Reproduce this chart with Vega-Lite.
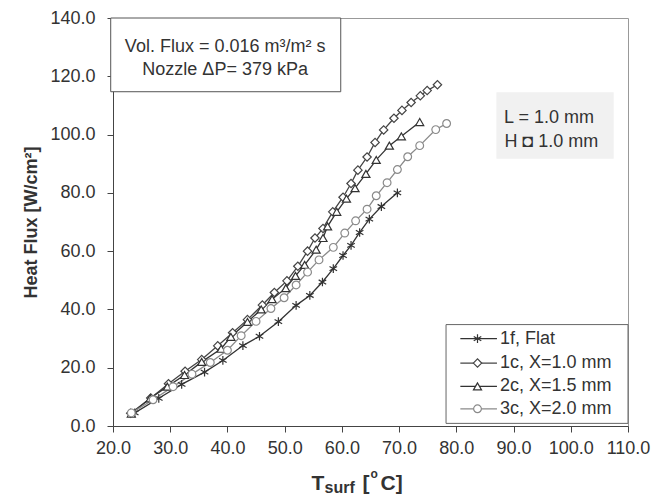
{
  "$schema": "https://vega.github.io/schema/vega-lite/v6.json",
  "autosize": "none",
  "width": 515,
  "height": 408,
  "padding": {"left": 113, "top": 18, "right": 27, "bottom": 78},
  "background": "white",
  "config": {
    "font": "Liberation Sans",
    "view": {"stroke": "#999", "strokeWidth": 1},
    "axis": {
      "grid": false,
      "domainColor": "#444",
      "tickColor": "#444",
      "tickSize": 6,
      "labelColor": "#333",
      "labelFont": "Liberation Sans",
      "labelFontSize": 18,
      "labelOverlap": false,
      "labelFlush": false,
      "titleFont": "Liberation Sans",
      "titleColor": "#333"
    }
  },
  "datasets": {
    "one": [{"k": 1}],
    "curves": [
      {"series": "1f", "T": 23.8, "q": 4.5}, {"series": "1f", "T": 28.0, "q": 9.5}, {"series": "1f", "T": 32.0, "q": 14.3}, {"series": "1f", "T": 36.0, "q": 18.5}, {"series": "1f", "T": 39.2, "q": 22.5}, {"series": "1f", "T": 42.7, "q": 27.6}, {"series": "1f", "T": 45.6, "q": 30.8}, {"series": "1f", "T": 48.9, "q": 35.8}, {"series": "1f", "T": 52.0, "q": 41.4}, {"series": "1f", "T": 54.4, "q": 44.8}, {"series": "1f", "T": 56.6, "q": 49.4}, {"series": "1f", "T": 58.5, "q": 54.0}, {"series": "1f", "T": 60.2, "q": 58.5}, {"series": "1f", "T": 61.6, "q": 62.0}, {"series": "1f", "T": 63.1, "q": 66.4}, {"series": "1f", "T": 64.8, "q": 71.0}, {"series": "1f", "T": 66.9, "q": 75.3}, {"series": "1f", "T": 69.7, "q": 80.0},
      {"series": "1c", "T": 23.1, "q": 4.4}, {"series": "1c", "T": 26.6, "q": 9.6}, {"series": "1c", "T": 29.7, "q": 14.5}, {"series": "1c", "T": 32.6, "q": 18.8}, {"series": "1c", "T": 35.5, "q": 22.8}, {"series": "1c", "T": 38.3, "q": 27.5}, {"series": "1c", "T": 40.9, "q": 32.0}, {"series": "1c", "T": 43.5, "q": 36.5}, {"series": "1c", "T": 46.1, "q": 41.5}, {"series": "1c", "T": 48.2, "q": 45.8}, {"series": "1c", "T": 50.4, "q": 49.8}, {"series": "1c", "T": 52.3, "q": 54.8}, {"series": "1c", "T": 54.0, "q": 60.0}, {"series": "1c", "T": 55.3, "q": 64.5}, {"series": "1c", "T": 56.7, "q": 67.8}, {"series": "1c", "T": 58.4, "q": 73.5}, {"series": "1c", "T": 60.2, "q": 78.5}, {"series": "1c", "T": 61.6, "q": 83.2}, {"series": "1c", "T": 62.8, "q": 87.8}, {"series": "1c", "T": 64.4, "q": 92.3}, {"series": "1c", "T": 65.8, "q": 97.3}, {"series": "1c", "T": 67.3, "q": 101.6}, {"series": "1c", "T": 69.1, "q": 105.6}, {"series": "1c", "T": 70.5, "q": 108.3}, {"series": "1c", "T": 72.1, "q": 111.0}, {"series": "1c", "T": 73.7, "q": 113.3}, {"series": "1c", "T": 74.9, "q": 115.1}, {"series": "1c", "T": 76.7, "q": 117.1},
      {"series": "2c", "T": 23.2, "q": 4.2}, {"series": "2c", "T": 26.5, "q": 9.5}, {"series": "2c", "T": 29.5, "q": 13.5}, {"series": "2c", "T": 32.5, "q": 17.5}, {"series": "2c", "T": 35.5, "q": 22.0}, {"series": "2c", "T": 38.9, "q": 26.5}, {"series": "2c", "T": 40.6, "q": 30.6}, {"series": "2c", "T": 43.5, "q": 35.7}, {"series": "2c", "T": 45.9, "q": 40.0}, {"series": "2c", "T": 47.8, "q": 43.5}, {"series": "2c", "T": 50.2, "q": 47.3}, {"series": "2c", "T": 51.9, "q": 51.5}, {"series": "2c", "T": 53.5, "q": 55.3}, {"series": "2c", "T": 55.5, "q": 60.5}, {"series": "2c", "T": 56.7, "q": 64.5}, {"series": "2c", "T": 57.5, "q": 68.5}, {"series": "2c", "T": 59.1, "q": 73.5}, {"series": "2c", "T": 60.8, "q": 78.0}, {"series": "2c", "T": 62.3, "q": 81.6}, {"series": "2c", "T": 64.2, "q": 86.5}, {"series": "2c", "T": 66.0, "q": 91.3}, {"series": "2c", "T": 68.3, "q": 96.2}, {"series": "2c", "T": 70.4, "q": 99.4}, {"series": "2c", "T": 73.6, "q": 104.3},
      {"series": "3c", "T": 23.2, "q": 4.5}, {"series": "3c", "T": 27.0, "q": 9.0}, {"series": "3c", "T": 30.5, "q": 13.5}, {"series": "3c", "T": 33.8, "q": 17.8}, {"series": "3c", "T": 37.0, "q": 21.8}, {"series": "3c", "T": 40.0, "q": 26.0}, {"series": "3c", "T": 42.4, "q": 31.0}, {"series": "3c", "T": 45.0, "q": 35.9}, {"series": "3c", "T": 47.6, "q": 40.3}, {"series": "3c", "T": 49.9, "q": 44.0}, {"series": "3c", "T": 52.0, "q": 48.4}, {"series": "3c", "T": 54.0, "q": 52.8}, {"series": "3c", "T": 56.0, "q": 57.0}, {"series": "3c", "T": 58.5, "q": 61.3}, {"series": "3c", "T": 60.5, "q": 66.2}, {"series": "3c", "T": 62.4, "q": 70.4}, {"series": "3c", "T": 64.4, "q": 74.4}, {"series": "3c", "T": 66.0, "q": 79.0}, {"series": "3c", "T": 67.9, "q": 83.5}, {"series": "3c", "T": 69.7, "q": 88.0}, {"series": "3c", "T": 71.5, "q": 92.4}, {"series": "3c", "T": 73.6, "q": 96.2}, {"series": "3c", "T": 76.4, "q": 101.7}, {"series": "3c", "T": 78.3, "q": 103.8}
    ],
    "legendRows": [
      {"series": "1f", "label": "1f, Flat", "ly": 30.0},
      {"series": "1c", "label": "1c, X=1.0 mm", "ly": 21.6},
      {"series": "2c", "label": "2c, X=1.5 mm", "ly": 13.6},
      {"series": "3c", "label": "3c, X=2.0 mm", "ly": 5.9}
    ]
  },
  "layer": [
    {
      "data": {"name": "one"},
      "mark": {"type": "rect", "fill": "white", "stroke": "#555", "strokeWidth": 1},
      "encoding": {
        "x": {"datum": 19.6, "type": "quantitative", "scale": {"domain": [20, 110], "nice": false, "zero": false},
          "axis": {"values": [20, 30, 40, 50, 60, 70, 80, 90, 100, 110], "format": ".1f", "title": null, "labelPadding": 7}},
        "x2": {"datum": 59.8},
        "y": {"datum": 114.7, "type": "quantitative", "scale": {"domain": [0, 140], "nice": false},
          "axis": {"values": [0, 10, 20, 30, 40, 50, 60, 70, 80, 90, 100, 110, 120, 130, 140], "format": ".1f",
            "title": "Heat Flux [W/cm²]", "titleFontSize": 18, "titleFontWeight": "bold", "titlePadding": 9, "labelPadding": 12}},
        "y2": {"datum": 140}
      }
    },
    {
      "data": {"name": "one"},
      "mark": {"type": "rect", "fill": "#f1f1f1", "stroke": null},
      "encoding": {"x": {"datum": 87.0}, "x2": {"datum": 107.5}, "y": {"datum": 91.7}, "y2": {"datum": 114.5}}
    },
    {
      "data": {"name": "curves"},
      "mark": {"type": "line", "strokeWidth": 1.3},
      "encoding": {
        "x": {"field": "T", "type": "quantitative"},
        "y": {"field": "q", "type": "quantitative"},
        "color": {"field": "series", "type": "nominal", "legend": null,
          "scale": {"domain": ["1f", "1c", "2c", "3c"], "range": ["#333333", "#444444", "#333333", "#8a8a8a"]}},
        "detail": {"field": "series"}
      }
    },
    {
      "data": {"name": "curves"},
      "mark": {"type": "point", "filled": false, "fill": "white", "fillOpacity": 1, "strokeWidth": 1.2, "opacity": 1},
      "encoding": {
        "x": {"field": "T", "type": "quantitative"},
        "y": {"field": "q", "type": "quantitative"},
        "stroke": {"field": "series", "type": "nominal", "legend": null,
          "scale": {"domain": ["1f", "1c", "2c", "3c"], "range": ["#333333", "#444444", "#333333", "#8a8a8a"]}},
        "shape": {"field": "series", "type": "nominal", "legend": null,
          "scale": {"domain": ["1f", "1c", "2c", "3c"], "range": ["M0,-1L0,1M-0.87,-0.5L0.87,0.5M-0.87,0.5L0.87,-0.5", "diamond", "triangle-up", "circle"]}},
        "size": {"field": "series", "type": "nominal", "legend": null,
          "scale": {"domain": ["1f", "1c", "2c", "3c"], "range": [75, 60, 75, 50]}}
      }
    },
    {
      "data": {"name": "one"},
      "mark": {"type": "text", "fontSize": 18, "color": "#333", "align": "center", "baseline": "alphabetic"},
      "encoding": {"x": {"datum": 39.6}, "y": {"datum": 128.3}, "text": {"value": "Vol. Flux = 0.016 m³/m² s"}}
    },
    {
      "data": {"name": "one"},
      "mark": {"type": "text", "fontSize": 18, "color": "#333", "align": "center", "baseline": "alphabetic"},
      "encoding": {"x": {"datum": 39.6}, "y": {"datum": 120.4}, "text": {"value": "Nozzle ΔP= 379 kPa"}}
    },
    {
      "data": {"name": "one"},
      "mark": {"type": "text", "fontSize": 18, "color": "#333", "align": "center", "baseline": "alphabetic"},
      "encoding": {"x": {"datum": 96.2}, "y": {"datum": 104.1}, "text": {"value": "L = 1.0 mm"}}
    },
    {
      "data": {"name": "one"},
      "mark": {"type": "text", "fontSize": 18, "color": "#333", "align": "center", "baseline": "alphabetic"},
      "encoding": {"x": {"datum": 96.6}, "y": {"datum": 95.9}, "text": {"value": "H ◘ 1.0 mm"}}
    },
    {
      "data": {"name": "one"},
      "mark": {"type": "rect", "fill": "white", "stroke": "#666", "strokeWidth": 1},
      "encoding": {"x": {"datum": 78.2}, "x2": {"datum": 110}, "y": {"datum": 0.9}, "y2": {"datum": 34.8}}
    },
    {
      "data": {"name": "legendRows"},
      "mark": {"type": "rule", "strokeWidth": 1.3},
      "encoding": {
        "x": {"datum": 80.7}, "x2": {"datum": 87.1},
        "y": {"field": "ly", "type": "quantitative"},
        "color": {"field": "series", "type": "nominal", "legend": null}
      }
    },
    {
      "data": {"name": "legendRows"},
      "mark": {"type": "point", "filled": false, "fill": "white", "fillOpacity": 1, "strokeWidth": 1.2, "opacity": 1},
      "encoding": {
        "x": {"datum": 83.7},
        "y": {"field": "ly", "type": "quantitative"},
        "stroke": {"field": "series", "type": "nominal", "legend": null},
        "shape": {"field": "series", "type": "nominal", "legend": null},
        "size": {"field": "series", "type": "nominal", "legend": null}
      }
    },
    {
      "data": {"name": "legendRows"},
      "mark": {"type": "text", "fontSize": 18, "color": "#333", "align": "left", "baseline": "middle", "dx": 3},
      "encoding": {
        "x": {"datum": 87.1},
        "y": {"field": "ly", "type": "quantitative"},
        "text": {"field": "label"}
      }
    },
    {
      "data": {"name": "one"},
      "mark": {"type": "text", "fontSize": 21, "fontWeight": "bold", "color": "#333", "align": "left", "baseline": "alphabetic", "dy": 64},
      "encoding": {"x": {"datum": 54.7}, "y": {"datum": 0}, "text": {"value": "T"}}
    },
    {
      "data": {"name": "one"},
      "mark": {"type": "text", "fontSize": 16, "fontWeight": "bold", "color": "#333", "align": "left", "baseline": "alphabetic", "dx": 13, "dy": 67},
      "encoding": {"x": {"datum": 54.7}, "y": {"datum": 0}, "text": {"value": "surf"}}
    },
    {
      "data": {"name": "one"},
      "mark": {"type": "text", "fontSize": 21, "fontWeight": "bold", "color": "#333", "align": "left", "baseline": "alphabetic", "dx": 51, "dy": 64},
      "encoding": {"x": {"datum": 54.7}, "y": {"datum": 0}, "text": {"value": "["}}
    },
    {
      "data": {"name": "one"},
      "mark": {"type": "text", "fontSize": 12, "fontWeight": "bold", "color": "#333", "align": "left", "baseline": "alphabetic", "dx": 59, "dy": 52},
      "encoding": {"x": {"datum": 54.7}, "y": {"datum": 0}, "text": {"value": "o"}}
    },
    {
      "data": {"name": "one"},
      "mark": {"type": "text", "fontSize": 21, "fontWeight": "bold", "color": "#333", "align": "left", "baseline": "alphabetic", "dx": 69, "dy": 64},
      "encoding": {"x": {"datum": 54.7}, "y": {"datum": 0}, "text": {"value": "C]"}}
    }
  ]
}
